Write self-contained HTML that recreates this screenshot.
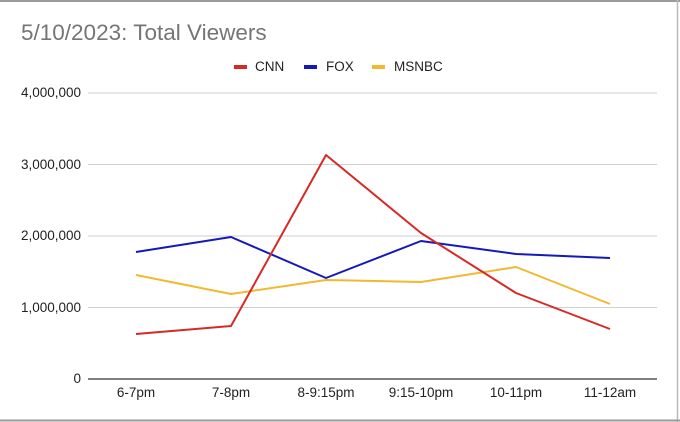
<!DOCTYPE html>
<html><head><style>
html,body{margin:0;padding:0;background:#fff;}
svg{display:block;}
text{font-family:"Liberation Sans",Arial,sans-serif;}
</style></head><body>
<svg width="680" height="422" viewBox="0 0 680 422" xmlns="http://www.w3.org/2000/svg">
<rect x="0" y="0" width="680" height="422" fill="#fff"/>
<line x1="0" y1="1" x2="680" y2="1" stroke="#9a9a9a" stroke-width="2"/>
<line x1="677.5" y1="0" x2="677.5" y2="422" stroke="#bbb" stroke-width="1.5"/>
<line x1="0" y1="420.5" x2="680" y2="420.5" stroke="#9a9a9a" stroke-width="2"/>
<text x="21" y="40" font-size="22.5" fill="#757575">5/10/2023: Total Viewers</text>
<g font-size="13.5" fill="#222">
<rect x="234" y="65" width="13" height="4" fill="#d62a26"/><text x="255" y="71">CNN</text>
<rect x="304" y="65" width="13" height="4" fill="#1519b8"/><text x="326" y="71">FOX</text>
<rect x="372" y="65" width="13" height="4" fill="#f0b92f"/><text x="394" y="71">MSNBC</text>
</g>
<g stroke="#cfcfcf" stroke-width="1">
<line x1="88" y1="93" x2="657" y2="93"/>
<line x1="88" y1="164.5" x2="657" y2="164.5"/>
<line x1="88" y1="236" x2="657" y2="236"/>
<line x1="88" y1="307.5" x2="657" y2="307.5"/>
</g>
<line x1="88" y1="379" x2="657" y2="379" stroke="#333" stroke-width="1.3"/>
<g font-size="13.5" fill="#222" text-anchor="end">
<text x="81" y="97">4,000,000</text>
<text x="81" y="169">3,000,000</text>
<text x="81" y="240">2,000,000</text>
<text x="81" y="312">1,000,000</text>
<text x="81" y="383">0</text>
</g>
<g font-size="13.5" fill="#222" text-anchor="middle">
<text x="136" y="397">6-7pm</text>
<text x="231" y="397">7-8pm</text>
<text x="326" y="397">8-9:15pm</text>
<text x="421" y="397">9:15-10pm</text>
<text x="516" y="397">10-11pm</text>
<text x="610" y="397">11-12am</text>
</g>
<g fill="none" stroke-width="2" stroke-linejoin="round">
<polyline stroke="#f0b92f" points="136,275 231,294 326,280 421,282 516,267 610,304"/>
<polyline stroke="#1519b8" points="136,252 231,237 326,278 421,241 516,254 610,258"/>
<polyline stroke="#d62a26" points="136,334 231,326 326,155 421,233 516,293 610,329"/>
</g>
</svg>
</body></html>
